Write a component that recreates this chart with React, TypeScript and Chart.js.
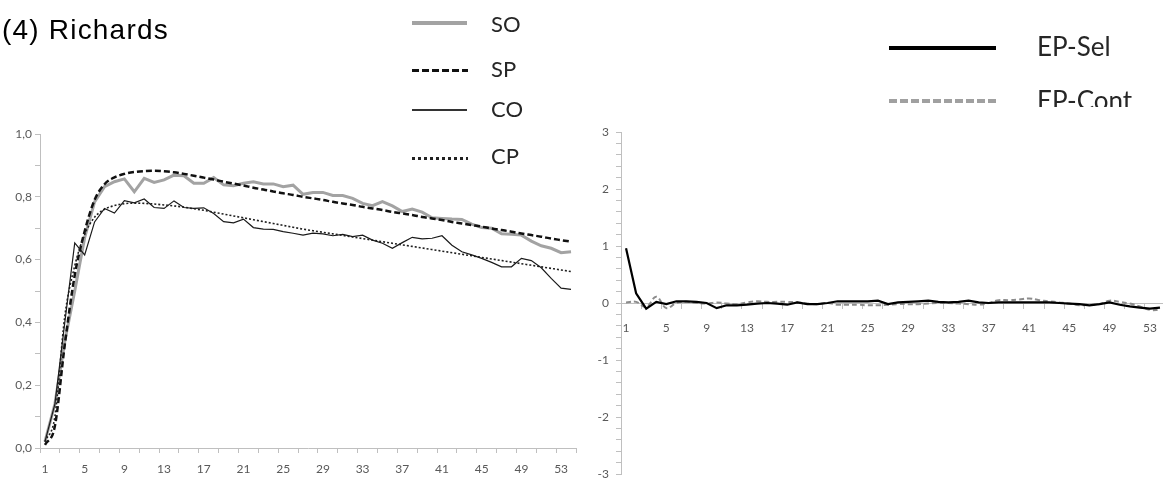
import { useEffect, useRef } from "react";
import { Chart, registerables } from "chart.js";

Chart.register(...registerables);

// Period numbers along both horizontal axes
const periods = [
  "1", "2", "3", "4", "5", "6", "7", "8", "9", "10",
  "11", "12", "13", "14", "15", "16", "17", "18", "19", "20",
  "21", "22", "23", "24", "25", "26", "27", "28", "29", "30",
  "31", "32", "33", "34", "35", "36", "37", "38", "39", "40",
  "41", "42", "43", "44", "45", "46", "47", "48", "49", "50",
  "51", "52", "53", "54",
];

// Left panel: observed (SO, CO) and predicted (SP, CP) curves
const so = [
  0.02, 0.14, 0.34, 0.5, 0.67, 0.784, 0.832, 0.848, 0.857, 0.816,
  0.859, 0.846, 0.854, 0.869, 0.867, 0.843, 0.843, 0.861, 0.838, 0.835,
  0.843, 0.848, 0.841, 0.841, 0.832, 0.837, 0.808, 0.814, 0.814, 0.804,
  0.804, 0.795, 0.779, 0.772, 0.785, 0.771, 0.753, 0.761, 0.751, 0.733,
  0.731, 0.729, 0.728, 0.713, 0.702, 0.7, 0.682, 0.681, 0.678, 0.659,
  0.644, 0.636, 0.622, 0.625,
];
const sp = [
  0.01, 0.07, 0.33, 0.55, 0.69, 0.79, 0.84, 0.862, 0.873, 0.879,
  0.882, 0.883, 0.881, 0.878, 0.873, 0.867, 0.861, 0.855, 0.848, 0.842,
  0.836, 0.829, 0.823, 0.817, 0.811, 0.806, 0.8, 0.795, 0.79, 0.784,
  0.779, 0.774, 0.768, 0.763, 0.758, 0.752, 0.747, 0.742, 0.736, 0.731,
  0.726, 0.72, 0.715, 0.71, 0.705, 0.699, 0.694, 0.689, 0.683, 0.678,
  0.673, 0.667, 0.662, 0.657,
];
const co = [
  0.02, 0.14, 0.4, 0.653, 0.615, 0.72, 0.763, 0.748, 0.788, 0.781,
  0.793, 0.766, 0.763, 0.787, 0.766, 0.763, 0.765, 0.747, 0.721, 0.717,
  0.729, 0.702, 0.697, 0.696, 0.689, 0.684, 0.678, 0.684, 0.682, 0.676,
  0.68, 0.673, 0.678, 0.662, 0.652, 0.636, 0.654, 0.671, 0.666, 0.668,
  0.676, 0.646, 0.625, 0.615, 0.604, 0.591, 0.577, 0.577, 0.604, 0.597,
  0.574, 0.54, 0.509, 0.505,
];
const cp = [
  0.02, 0.1, 0.42, 0.58, 0.68, 0.735, 0.76, 0.772, 0.778, 0.78,
  0.779, 0.777, 0.774, 0.771, 0.767, 0.762, 0.757, 0.751, 0.745, 0.739,
  0.733, 0.727, 0.721, 0.715, 0.709, 0.703, 0.697, 0.692, 0.687, 0.682,
  0.677, 0.672, 0.667, 0.662, 0.657, 0.652, 0.647, 0.642, 0.637, 0.632,
  0.627, 0.622, 0.617, 0.612, 0.607, 0.602, 0.597, 0.592, 0.587, 0.582,
  0.577, 0.572, 0.567, 0.562,
];

// Right panel: EP-Sel and EP-Cont
const epSel = [
  0.96, 0.17, -0.1, 0.02, -0.02, 0.03, 0.03, 0.02, 0.0, -0.09,
  -0.04, -0.04, -0.03, -0.01, 0.0, -0.01, -0.03, 0.01, -0.02, -0.02,
  0.0, 0.03, 0.03, 0.03, 0.03, 0.04, -0.02, 0.01, 0.02, 0.03,
  0.04, 0.02, 0.01, 0.02, 0.04, 0.01, 0.0, 0.01, 0.01, 0.01,
  0.01, 0.01, 0.01, 0.0, -0.01, -0.02, -0.04, -0.02, 0.01, -0.03,
  -0.06, -0.08, -0.1, -0.08,
];
const epCont = [
  0.01, 0.02, -0.07, 0.11, -0.09, 0.0, 0.02, 0.0, -0.01, 0.01,
  -0.01, -0.02, 0.01, 0.03, 0.02, 0.02, 0.02, 0.01, -0.01, -0.02,
  0.0, -0.03, -0.03, -0.03, -0.04, -0.04, -0.03, -0.02, -0.02, -0.02,
  -0.01, 0.0, 0.0, -0.01, -0.02, -0.03, 0.0, 0.05, 0.05, 0.06,
  0.08, 0.05, 0.03, 0.01, -0.01, -0.04, -0.03, -0.02, 0.04, 0.02,
  -0.01, -0.06, -0.12, -0.12,
];

const AXIS_GREY = "#bfbfbf";
const LABEL_GREY = "#595959";
const TICK_FONT = { family: "Lato, 'Open Sans', sans-serif", size: 12 };
const CLEAR = "rgba(0,0,0,0)";

// Tick marks on the category boundaries, every second period
const boundaryTickColor = (ctx: any) =>
  (ctx.index === undefined ? 0 : ctx.index) % 2 === 0 ? AXIS_GREY : CLEAR;

const periodLabel = (_v: any, i: number) => (i % 4 === 0 ? periods[i] : "");

function buildLeft(canvas: HTMLCanvasElement) {
  return new Chart(canvas, {
    type: "line",
    data: {
      labels: periods,
      datasets: [
        { label: "CP", data: cp, borderColor: "#1e1e1e", borderWidth: 1.6, borderDash: [2, 2], cubicInterpolationMode: "monotone", pointRadius: 0 },
        { label: "CO", data: co, borderColor: "#1a1a1a", borderWidth: 1.2, tension: 0, pointRadius: 0 },
        { label: "SP", data: sp, borderColor: "#111111", borderWidth: 2.5, borderDash: [6, 3], cubicInterpolationMode: "monotone", pointRadius: 0 },
        { label: "SO", data: so, borderColor: "#a3a3a3", borderWidth: 3, tension: 0, pointRadius: 0 },
      ],
    },
    options: {
      animation: false,
      responsive: false,
      layout: { padding: { top: 134, right: 14, left: 0, bottom: 0 } },
      plugins: { legend: { display: false }, tooltip: { enabled: false } },
      scales: {
        x: {
          type: "category",
          offset: true,
          grid: { offset: true, drawOnChartArea: false, tickLength: 5, tickColor: boundaryTickColor },
          border: { color: AXIS_GREY },
          ticks: { autoSkip: false, maxRotation: 0, minRotation: 0, padding: 9, color: LABEL_GREY, font: TICK_FONT, callback: periodLabel },
          afterFit: (s: any) => {
            s.height = 30;
            s.paddingLeft = 0;
            s.paddingRight = 0;
          },
        },
        y: {
          min: 0,
          max: 1,
          grid: { drawOnChartArea: false, tickLength: 5, tickColor: AXIS_GREY },
          border: { color: AXIS_GREY },
          ticks: {
            autoSkip: false,
            stepSize: 0.1,
            padding: 3,
            color: LABEL_GREY,
            font: TICK_FONT,
            callback: (v: any) => {
              const r = Math.round(Number(v) * 10);
              return r % 2 === 0 ? (r / 10).toFixed(1).replace(".", ",") : "";
            },
          },
          afterFit: (s: any) => { s.width = 40; },
        },
      },
    },
  } as any);
}

function buildRight(canvas: HTMLCanvasElement) {
  return new Chart(canvas, {
    type: "line",
    data: {
      labels: periods,
      datasets: [
        { label: "EP-Sel", data: epSel, borderColor: "#000000", borderWidth: 2.2, tension: 0, pointRadius: 0 },
        { label: "EP-Cont", data: epCont, borderColor: "#8c8c8c", borderWidth: 2, borderDash: [5, 3], tension: 0.4, pointRadius: 0 },
      ],
    },
    options: {
      animation: false,
      responsive: false,
      layout: { padding: { top: 132, right: 0, left: 0, bottom: 4 } },
      plugins: { legend: { display: false }, tooltip: { enabled: false } },
      scales: {
        x: {
          type: "category",
          position: { y: 0 },
          offset: true,
          grid: { offset: true, drawOnChartArea: false, tickLength: 5, tickColor: boundaryTickColor },
          border: { color: AXIS_GREY },
          ticks: { autoSkip: false, maxRotation: 0, minRotation: 0, padding: 13, color: LABEL_GREY, font: TICK_FONT, callback: periodLabel },
          afterFit: (s: any) => {
            s.paddingLeft = 0;
            s.paddingRight = 0;
          },
        },
        y: {
          position: "left",
          min: -3,
          max: 3,
          grid: { drawOnChartArea: false, tickLength: 5, tickColor: AXIS_GREY },
          border: { color: AXIS_GREY },
          ticks: {
            autoSkip: false,
            stepSize: 0.2,
            padding: 7,
            color: LABEL_GREY,
            font: TICK_FONT,
            callback: (v: any) => {
              const n = Number(v);
              return Math.abs(n - Math.round(n)) < 1e-6 ? String(Math.round(n)) : "";
            },
          },
          afterFit: (s: any) => {
            s.width = 36;
            s.paddingTop = 0;
            s.paddingBottom = 0;
          },
        },
      },
    },
  } as any);
}

const legendFont = "Lato, 'Open Sans', sans-serif";

function LegendText(props: { text: string; left: number; top: number; size: number; clip?: number }) {
  const { text, left, top, size, clip } = props;
  return (
    <div
      style={{
        position: "absolute",
        left,
        top,
        height: clip === undefined ? size * 1.2 : clip,
        overflow: "hidden",
        fontFamily: legendFont,
        fontSize: size,
        lineHeight: `${size * 1.2}px`,
        color: "#262626",
        whiteSpace: "nowrap",
      }}
    >
      {text}
    </div>
  );
}

function Swatch(props: { left: number; top: number; width: number; height: number; background: string }) {
  const { left, top, width, height, background } = props;
  return <div style={{ position: "absolute", left, top, width, height, background }} />;
}

export default function App() {
  const leftRef = useRef<HTMLCanvasElement>(null);
  const rightRef = useRef<HTMLCanvasElement>(null);

  useEffect(() => {
    const left = buildLeft(leftRef.current!);
    const right = buildRight(rightRef.current!);
    return () => {
      left.destroy();
      right.destroy();
    };
  }, []);

  return (
    <div style={{ position: "fixed", left: 0, top: 0, width: 1163, height: 478, overflow: "hidden", background: "#ffffff" }}>
      <canvas ref={leftRef} width={590} height={478} style={{ position: "absolute", left: 0, top: 0 }} />
      <canvas ref={rightRef} width={580} height={478} style={{ position: "absolute", left: 585, top: 0 }} />

      <div
        style={{
          position: "absolute",
          left: 2,
          top: 14,
          fontFamily: "'Liberation Sans', Arial, sans-serif",
          fontSize: 28,
          lineHeight: "32px",
          letterSpacing: 1.2,
          color: "#000",
          whiteSpace: "nowrap",
        }}
      >
        (4) Richards
      </div>

      {/* left panel legend */}
      <Swatch left={412} top={21} width={55} height={4} background="#a3a3a3" />
      <Swatch left={412} top={69} width={56} height={3} background="repeating-linear-gradient(to right, #111 0 7px, transparent 7px 10px)" />
      <Swatch left={412} top={109} width={55} height={1.5} background="#333" />
      <Swatch left={412} top={157} width={56} height={3} background="repeating-linear-gradient(to right, #222 0 3px, transparent 3px 6px)" />
      <LegendText text="SO" left={491} top={11} size={22} />
      <LegendText text="SP" left={491} top={56} size={22} />
      <LegendText text="CO" left={491} top={96} size={22} />
      <LegendText text="CP" left={491} top={143} size={22} clip={22} />

      {/* right panel legend */}
      <Swatch left={889} top={46} width={107} height={4} background="#000" />
      <Swatch left={889} top={99} width={108} height={4} background="repeating-linear-gradient(to right, #a0a0a0 0 8px, transparent 8px 11px)" />
      <LegendText text="EP-Sel" left={1037} top={31} size={26} />
      <LegendText text="EP-Cont" left={1037} top={85} size={26} clip={22} />
    </div>
  );
}
